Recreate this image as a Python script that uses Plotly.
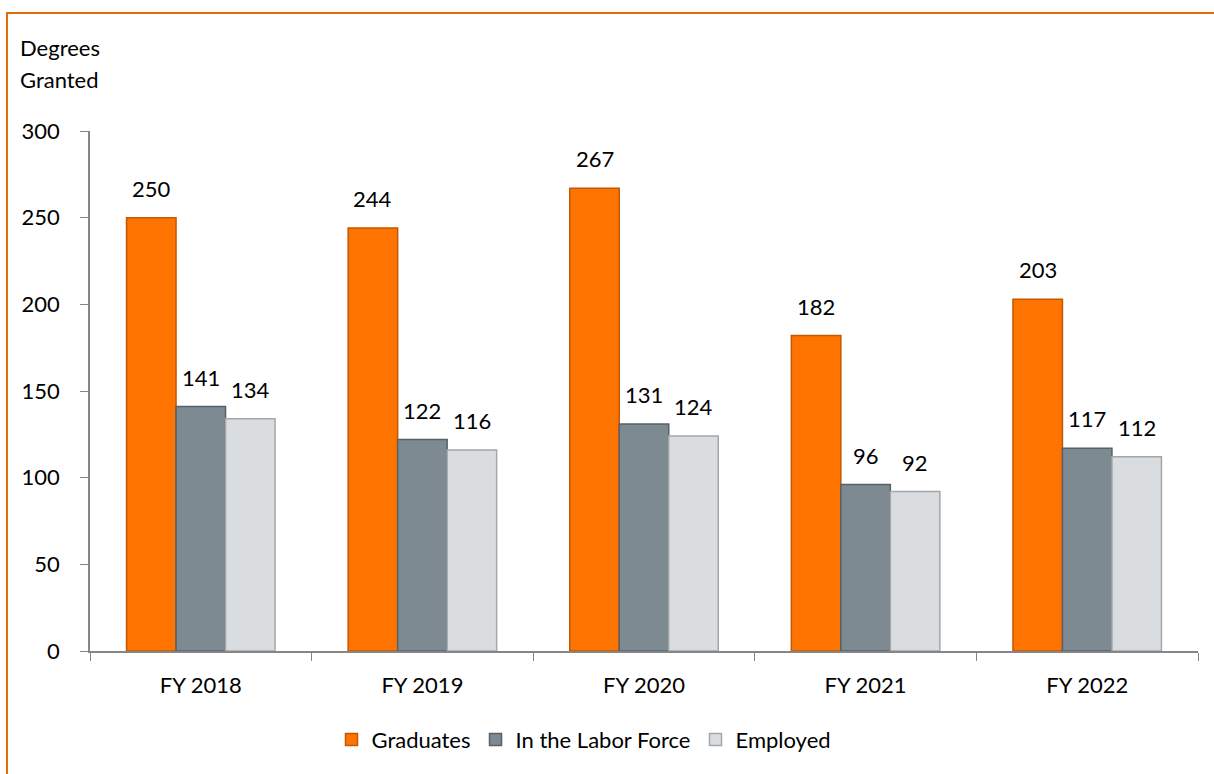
import plotly.graph_objects as go

categories = ["FY 2018", "FY 2019", "FY 2020", "FY 2021", "FY 2022"]
graduates = [250, 244, 267, 182, 203]
labor_force = [141, 122, 131, 96, 117]
employed = [134, 116, 124, 92, 112]
y_ticks = [0, 50, 100, 150, 200, 250, 300]

FONT = "Lato"
FS = 22

series = [
    ("Graduates", graduates, "#FF7300", "#C45800"),
    ("In the Labor Force", labor_force, "#7D8A92", "#56616A"),
    ("Employed", employed, "#DADDE0", "#A3A7AA"),
]

W, H = 1214, 774
L, R, T, B = 90, 16, 131, 123
BARGAP = 0.33
plot_w = W - L - R
bar_px = plot_w / len(categories) * (1 - BARGAP) / len(series)

fig = go.Figure()
annotations = []
for i, (name, vals, col, edge) in enumerate(series):
    fig.add_trace(go.Bar(
        name=name, x=categories, y=vals,
        marker=dict(color=col, line=dict(color=edge, width=1.5)),
        cliponaxis=False,
    ))
    shift = (i - (len(series) - 1) / 2) * bar_px
    for c, v in zip(categories, vals):
        annotations.append(dict(x=c, y=v, xref="x", yref="y", text=str(v),
                                showarrow=False, xanchor="center", yanchor="bottom",
                                xshift=shift, yshift=14,
                                font=dict(family=FONT, size=FS, color="#000000")))

annotations.append(dict(text="Degrees", xref="paper", yref="paper",
                        x=(18 - L) / plot_w, y=(651 - 48) / 520, xanchor="left", yanchor="middle",
                        showarrow=False, font=dict(family=FONT, size=FS)))
annotations.append(dict(text="Granted", xref="paper", yref="paper",
                        x=(18 - L) / plot_w, y=(651 - 80) / 520, xanchor="left", yanchor="middle",
                        showarrow=False, font=dict(family=FONT, size=FS)))

fig.update_layout(
    width=W, height=H,
    margin=dict(l=L, r=R, t=T, b=B, autoexpand=False),
    paper_bgcolor="white", plot_bgcolor="white",
    barmode="group", bargap=BARGAP, bargroupgap=0,
    font=dict(family=FONT, size=FS, color="#000000"),
    showlegend=True,
    legend=dict(orientation="h", x=(584 - L) / plot_w, xanchor="center", y=-0.13, yanchor="top",
                font=dict(family=FONT, size=FS), itemwidth=30, tracegroupgap=0),
    xaxis=dict(showline=True, linecolor="#868686", linewidth=1.5,
               ticks="outside", tickson="boundaries", ticklen=8, tickcolor="#868686",
               ticklabelstandoff=14,
               tickfont=dict(family=FONT, size=FS), showgrid=False),
    yaxis=dict(range=[0, 300], tickvals=y_ticks, showline=True, linecolor="#868686",
               linewidth=1.5, ticks="outside", ticklen=8, tickcolor="#868686",
               ticklabelstandoff=16,
               tickfont=dict(family=FONT, size=FS), showgrid=False, zeroline=False),
    annotations=annotations,
    shapes=[dict(type="rect", xref="paper", yref="paper",
                 x0=(7 - L) / plot_w, x1=1.2, y0=-0.5, y1=(651 - 13) / 520,
                 line=dict(color="#E36C0A", width=2), fillcolor="rgba(0,0,0,0)", layer="below")],
)

fig.write_html("out.html", config={"displayModeBar": False},
               post_script="document.body.style.margin='0';document.body.style.overflow='hidden';")
